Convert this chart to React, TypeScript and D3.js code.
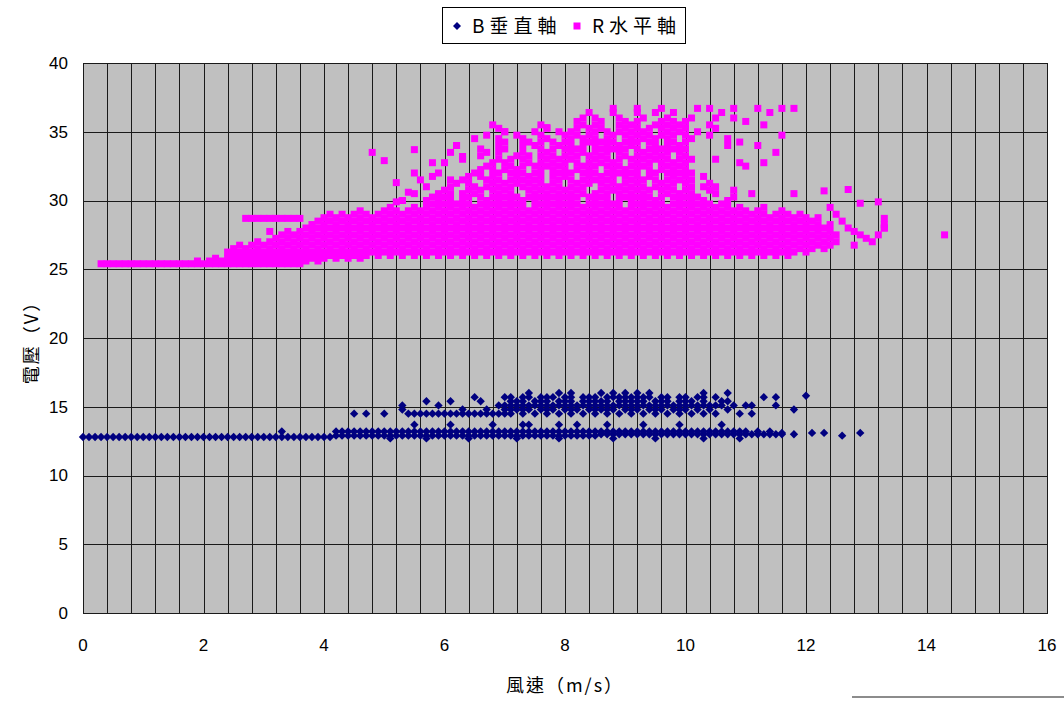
import React, { useEffect, useRef } from 'react';
import * as d3 from 'd3';

type Row = [number, number[]];

// B垂直軸 — rows of [voltage, wind speeds]
const bBaseRows: Row[] = [
  [12.8, [0, 0.1, 0.2, 0.3, 0.4, 0.5, 0.6, 0.7, 0.8, 0.9, 1, 1.1, 1.2, 1.3, 1.4, 1.5, 1.6, 1.7, 1.8, 1.9, 2, 2.1, 2.2, 2.3, 2.4, 2.5, 2.6, 2.7, 2.8, 2.9, 3, 3.1, 3.2, 3.3, 3.4, 3.5, 3.6, 3.7, 3.8, 3.9, 4, 4.1]],
  [12.9, [4.2, 4.3, 4.4, 4.5, 4.6, 4.7, 4.8, 4.9, 5, 5.1, 5.2, 5.3, 5.4, 5.5, 5.6, 5.7, 5.8, 5.9, 6, 6.1, 6.2, 6.3, 6.4, 6.5, 6.6, 6.7, 6.8, 6.9, 7, 7.1, 7.2, 7.3, 7.4, 7.5, 7.6, 7.7, 7.8, 7.9, 8, 8.1, 8.2, 8.3, 8.4, 8.5]],
  [13.0, [8.6, 8.7, 8.8, 8.9, 9, 9.1, 9.2, 9.3, 9.4, 9.5, 9.6, 9.7, 9.8, 9.9, 10, 10.1, 10.2, 10.3, 10.4, 10.5, 10.6, 10.7, 10.8, 10.9, 11, 11.1, 11.2, 11.3, 11.4, 11.5, 11.6, 11.8]],
  [13.2, [3.3, 4.2, 4.3, 4.4, 4.5, 4.6, 4.7, 4.8, 4.9, 5, 5.1, 5.2, 5.3, 5.4, 5.5, 5.6, 5.7, 5.8, 5.9, 6, 6.1, 6.2, 6.3, 6.4, 6.5, 6.6, 6.7, 6.8, 6.9, 7, 7.1, 7.2, 7.3, 7.4, 7.5, 7.6, 7.7, 7.8, 7.9, 8, 8.1, 8.2, 8.3, 8.4, 8.5, 8.6, 8.7, 8.8, 8.9, 9, 9.1, 9.2, 9.3, 9.4, 9.5, 9.6, 9.7, 9.8, 9.9, 10, 10.1, 10.2, 10.3, 10.4, 10.5, 10.6, 10.7, 10.8, 10.9, 11, 11.2, 11.4]],
  [12.7, [5.1, 5.7, 6.4, 7.2, 7.9, 8.8, 9.5, 10.3, 10.9]],
  [13.7, [5.5, 6.1, 6.8, 7.3, 7.4, 7.9, 8.2, 8.7, 9.3, 9.9, 10.6]],
];

const bUpperRows: Row[] = [
  [14.5, [4.5, 4.7, 5, 5.4, 5.5, 5.6, 5.7, 5.8, 5.9, 6, 6.1, 6.2, 6.3, 6.4, 6.5, 6.6, 6.7, 6.8, 6.9, 7, 7.1, 7.3, 7.5, 7.7, 7.9, 8.1, 8.3, 8.5, 8.7, 8.9, 9.1, 9.3, 9.5, 9.7, 9.9, 10.1, 10.3, 10.5, 10.9, 11.1]],
  [14.8, [5.3, 6.3, 6.7, 7, 7.1, 7.2, 7.3, 7.4, 7.6, 7.7, 7.8, 8, 8.1, 8.2, 8.4, 8.5, 8.6, 8.7, 8.8, 9, 9.1, 9.2, 9.4, 9.5, 9.6, 9.8, 9.9, 10, 10.2, 10.4, 10.7, 11.8]],
  [15.1, [5.3, 5.9, 6.9, 7, 7.1, 7.2, 7.3, 7.4, 7.5, 7.6, 7.7, 7.8, 7.9, 8, 8.1, 8.2, 8.3, 8.4, 8.5, 8.6, 8.7, 8.8, 8.9, 9, 9.1, 9.2, 9.3, 9.4, 9.5, 9.6, 9.7, 9.8, 9.9, 10, 10.1, 10.2, 10.3, 10.4, 10.5, 10.6, 10.8, 11, 11.1, 11.5]],
  [15.4, [5.7, 6.1, 6.6, 7.1, 7.2, 7.3, 7.5, 7.6, 7.7, 7.9, 8, 8.1, 8.3, 8.4, 8.5, 8.6, 8.7, 8.9, 9, 9.1, 9.2, 9.3, 9.5, 9.6, 9.7, 9.9, 10, 10.1, 10.3, 10.6, 10.7]],
  [15.7, [6.5, 7, 7.1, 7.3, 7.4, 7.6, 7.7, 7.8, 8, 8.1, 8.3, 8.4, 8.5, 8.7, 8.8, 8.9, 9, 9.1, 9.2, 9.3, 9.4, 9.6, 9.7, 9.9, 10, 10.2, 10.3, 10.5, 11.3, 11.5]],
  [16.0, [7.4, 7.9, 8.1, 8.6, 8.8, 9, 9.2, 9.4, 10.3, 10.7]],
];

const bLoose: [number, number][] = [
  [12.1, 13.1], [12.3, 13.1], [12.6, 12.9], [12.9, 13.1], [11.6, 13.1], [12.0, 15.8],
];

// R水平軸
const rBandRows: Row[] = [
  [25.4, [0.3, 0.4, 0.5, 0.6, 0.7, 0.8, 0.9, 1, 1.1, 1.2, 1.3, 1.4, 1.5, 1.6, 1.7, 1.8, 1.9, 2, 2.1, 2.2, 2.3, 2.4, 2.5, 2.6, 2.7, 2.8, 2.9, 3, 3.1, 3.2, 3.3, 3.4, 3.5, 3.6]],
  [25.6, [1.9, 2.1, 2.3, 2.5, 2.7, 2.9, 3.1, 3.3, 3.5, 3.7, 3.9]],
  [25.8, [2.2, 2.4, 2.6, 2.8, 3, 3.2, 3.4, 3.6, 3.8, 4, 4.2, 4.4, 4.6]],
  [26.0, [2.5, 2.7, 2.9, 3.1, 3.3, 3.5, 3.7, 3.9, 4.1, 4.3, 4.5, 4.7, 4.9, 5.1, 5.3, 5.5, 5.7, 5.9, 6.1, 6.3, 6.5, 6.7, 6.9, 7.1, 7.3, 7.5, 7.7, 7.9, 8.1, 8.3, 8.5, 8.7, 8.9, 9.1, 9.3, 9.5, 9.7, 9.9, 10.1, 10.3, 10.5, 10.7, 10.9, 11.1, 11.3, 11.5, 11.7]],
  [26.25, [2.4, 2.6, 2.8, 3, 3.2, 3.4, 3.6, 3.8, 4, 4.2, 4.4, 4.6, 4.8, 5, 5.2, 5.4, 5.6, 5.8, 6, 6.2, 6.4, 6.6, 6.8, 7, 7.2, 7.4, 7.6, 7.8, 8, 8.2, 8.4, 8.6, 8.8, 9, 9.2, 9.4, 9.6, 9.8, 10, 10.2, 10.4, 10.6, 10.8, 11, 11.2, 11.4, 11.6, 11.8, 12]],
  [26.5, [2.5, 2.7, 2.9, 3.1, 3.3, 3.5, 3.7, 3.9, 4.1, 4.3, 4.5, 4.7, 4.9, 5.1, 5.3, 5.5, 5.7, 5.9, 6.1, 6.3, 6.5, 6.7, 6.9, 7.1, 7.3, 7.5, 7.7, 7.9, 8.1, 8.3, 8.5, 8.7, 8.9, 9.1, 9.3, 9.5, 9.7, 9.9, 10.1, 10.3, 10.5, 10.7, 10.9, 11.1, 11.3, 11.5, 11.7, 11.9, 12.1, 12.3]],
  [26.75, [2.6, 2.8, 3, 3.2, 3.4, 3.6, 3.8, 4, 4.2, 4.4, 4.6, 4.8, 5, 5.2, 5.4, 5.6, 5.8, 6, 6.2, 6.4, 6.6, 6.8, 7, 7.2, 7.4, 7.6, 7.8, 8, 8.2, 8.4, 8.6, 8.8, 9, 9.2, 9.4, 9.6, 9.8, 10, 10.2, 10.4, 10.6, 10.8, 11, 11.2, 11.4, 11.6, 11.8, 12, 12.2, 12.4, 12.8]],
  [27.0, [2.9, 3.1, 3.3, 3.5, 3.7, 3.9, 4.1, 4.3, 4.5, 4.7, 4.9, 5.1, 5.3, 5.5, 5.7, 5.9, 6.1, 6.3, 6.5, 6.7, 6.9, 7.1, 7.3, 7.5, 7.7, 7.9, 8.1, 8.3, 8.5, 8.7, 8.9, 9.1, 9.3, 9.5, 9.7, 9.9, 10.1, 10.3, 10.5, 10.7, 10.9, 11.1, 11.3, 11.5, 11.7, 11.9, 12.1, 12.3, 12.5, 13.1]],
  [27.25, [3.2, 3.4, 3.6, 3.8, 4, 4.2, 4.4, 4.6, 4.8, 5, 5.2, 5.4, 5.6, 5.8, 6, 6.2, 6.4, 6.6, 6.8, 7, 7.2, 7.4, 7.6, 7.8, 8, 8.2, 8.4, 8.6, 8.8, 9, 9.2, 9.4, 9.6, 9.8, 10, 10.2, 10.4, 10.6, 10.8, 11, 11.2, 11.4, 11.6, 11.8, 12, 12.2, 12.4, 13]],
  [27.5, [3.3, 3.5, 3.7, 3.9, 4.1, 4.3, 4.5, 4.7, 4.9, 5.1, 5.3, 5.5, 5.7, 5.9, 6.1, 6.3, 6.5, 6.7, 6.9, 7.1, 7.3, 7.5, 7.7, 7.9, 8.1, 8.3, 8.5, 8.7, 8.9, 9.1, 9.3, 9.5, 9.7, 9.9, 10.1, 10.3, 10.5, 10.7, 10.9, 11.1, 11.3, 11.5, 11.7, 11.9, 12.1, 12.3, 12.5, 12.9, 13.2]],
  [27.75, [3.1, 3.4, 3.6, 3.8, 4, 4.2, 4.4, 4.6, 4.8, 5, 5.2, 5.4, 5.6, 5.8, 6, 6.2, 6.4, 6.6, 6.8, 7, 7.2, 7.4, 7.6, 7.8, 8, 8.2, 8.4, 8.6, 8.8, 9, 9.2, 9.4, 9.6, 9.8, 10, 10.2, 10.4, 10.6, 10.8, 11, 11.2, 11.4, 11.6, 11.8, 12, 12.2, 12.4, 12.8]],
  [28.0, [3.7, 3.9, 4.1, 4.3, 4.5, 4.7, 4.9, 5.1, 5.3, 5.5, 5.7, 5.9, 6.1, 6.3, 6.5, 6.7, 6.9, 7.1, 7.3, 7.5, 7.7, 7.9, 8.1, 8.3, 8.5, 8.7, 8.9, 9.1, 9.3, 9.5, 9.7, 9.9, 10.1, 10.3, 10.5, 10.7, 10.9, 11.1, 11.3, 11.5, 11.7, 11.9, 12.1, 12.3, 12.7, 13.3]],
  [28.25, [3.8, 4, 4.2, 4.4, 4.6, 4.8, 5, 5.2, 5.4, 5.6, 5.8, 6, 6.2, 6.4, 6.6, 6.8, 7, 7.2, 7.4, 7.6, 7.8, 8, 8.2, 8.4, 8.6, 8.8, 9, 9.2, 9.4, 9.6, 9.8, 10, 10.2, 10.4, 10.6, 10.8, 11, 11.2, 11.4, 11.6, 11.8, 12, 12.2, 12.4, 13.3]],
  [28.5, [3.9, 4.1, 4.3, 4.5, 4.7, 4.9, 5.1, 5.3, 5.5, 5.7, 5.9, 6.1, 6.3, 6.5, 6.7, 6.9, 7.1, 7.3, 7.5, 7.7, 7.9, 8.1, 8.3, 8.5, 8.7, 8.9, 9.1, 9.3, 9.5, 9.7, 9.9, 10.1, 10.3, 10.5, 10.7, 10.9, 11.1, 11.3, 11.5, 11.7, 11.9, 12.1, 12.6]],
  [28.7, [2.7, 2.8, 2.9, 3, 3.1, 3.2, 3.3, 3.4, 3.5, 3.6, 13.3]],
  [28.75, [4, 4.2, 4.4, 4.6, 4.8, 5, 5.2, 5.4, 5.6, 5.8, 6, 6.2, 6.4, 6.6, 6.8, 7, 7.2, 7.4, 7.6, 7.8, 8, 8.2, 8.4, 8.6, 8.8, 9, 9.2, 9.4, 9.6, 9.8, 10, 10.2, 10.4, 10.6, 10.8, 11, 11.2, 11.4, 11.6, 11.8, 12, 12.2]],
  [29.0, [4.1, 4.3, 4.5, 4.7, 4.9, 5.1, 5.3, 5.5, 5.7, 5.9, 6.1, 6.3, 6.5, 6.7, 6.9, 7.1, 7.3, 7.5, 7.7, 7.9, 8.1, 8.3, 8.5, 8.7, 8.9, 9.1, 9.3, 9.5, 9.7, 9.9, 10.1, 10.3, 10.5, 10.7, 10.9, 11.1, 11.3, 11.5, 11.7, 11.9, 12.5]],
  [29.25, [4.6, 5, 5.2, 5.4, 5.6, 5.8, 6, 6.2, 6.4, 6.6, 6.8, 7, 7.2, 7.4, 7.6, 7.8, 8, 8.2, 8.4, 8.6, 8.8, 9, 9.2, 9.4, 9.6, 9.8, 10, 10.2, 10.4, 10.6, 10.8, 11, 11.2, 11.6]],
  [29.5, [5.1, 5.5, 5.7, 5.9, 6.1, 6.3, 6.5, 6.7, 6.9, 7.1, 7.3, 7.5, 7.7, 7.9, 8.1, 8.3, 8.5, 8.7, 8.9, 9.1, 9.3, 9.5, 9.7, 9.9, 10.1, 10.3, 10.5, 10.7, 10.9, 11.3]],
];

const rCloudRows: Row[] = [
  [29.75, [5.8, 6, 6.2, 6.4, 6.6, 6.8, 7, 7.2, 7.6, 7.8, 8, 8.2, 8.4, 8.6, 8.8, 9.2, 9.4, 9.6, 9.8, 10, 10.2, 10.4, 10.6]],
  [30.0, [5.3, 5.7, 5.9, 6.1, 6.3, 6.7, 6.9, 7.1, 7.3, 7.5, 7.7, 7.9, 8.1, 8.5, 8.7, 8.9, 9.1, 9.3, 9.5, 9.9, 10.1, 10.3, 10.7]],
  [30.25, [5.8, 6, 6.4, 6.6, 6.8, 7, 7.2, 7.4, 7.6, 7.8, 8, 8.2, 8.4, 8.6, 9, 9.2, 9.4, 9.6, 9.8, 10, 10.2, 10.8]],
  [30.5, [5.5, 5.9, 6.1, 6.3, 6.5, 6.9, 7.1, 7.5, 7.7, 7.9, 8.1, 8.3, 8.5, 8.7, 8.9, 9.1, 9.3, 9.7, 9.9, 10.1, 10.5, 11.1]],
  [30.75, [6, 6.4, 6.6, 6.8, 7, 7.4, 7.6, 7.8, 8, 8.2, 8.6, 8.8, 9, 9.2, 9.4, 9.6, 9.8, 10, 10.4, 10.8]],
  [31.0, [5.7, 6.1, 6.5, 6.7, 6.9, 7.1, 7.3, 7.5, 7.7, 7.9, 8.1, 8.3, 8.7, 8.9, 9.1, 9.3, 9.5, 9.7, 10.1, 10.3, 10.5]],
  [31.25, [6.2, 6.4, 6.8, 7, 7.2, 7.4, 7.6, 7.8, 8.2, 8.4, 8.6, 8.8, 9, 9.2, 9.6, 9.8, 10, 10.4]],
  [31.5, [5.6, 6.1, 6.3, 6.7, 6.9, 7.1, 7.3, 7.5, 7.9, 8.1, 8.3, 8.5, 8.7, 9.1, 9.3, 9.5, 9.7, 9.9, 10.1]],
  [31.75, [5.8, 6.4, 6.6, 6.8, 7.2, 7.4, 7.6, 7.8, 8, 8.4, 8.6, 8.8, 9, 9.2, 9.4, 9.8, 10, 10.3]],
  [32.0, [5.5, 5.9, 6.5, 6.9, 7.1, 7.3, 7.5, 7.9, 8.1, 8.3, 8.5, 8.7, 8.9, 9.1, 9.5, 9.7, 9.9, 10.1]],
  [32.25, [6.6, 6.8, 7, 7.2, 7.6, 7.8, 8, 8.2, 8.4, 8.8, 9, 9.2, 9.4, 9.6, 9.8, 10]],
  [32.5, [6.7, 7.1, 7.3, 7.5, 7.7, 7.9, 8.3, 8.5, 8.7, 8.9, 9.1, 9.3, 9.7, 9.9, 11]],
  [32.75, [5.8, 6, 6.8, 7, 7.4, 7.6, 7.8, 8, 8.2, 8.4, 8.6, 8.8, 9.2, 9.4, 9.6, 9.8, 10, 10.9, 11.3]],
  [33.0, [6.3, 6.9, 7.1, 7.3, 7.7, 7.9, 8.1, 8.5, 8.7, 8.9, 9.1, 9.3, 9.5, 9.7, 9.9, 10.1, 10.5]],
  [33.25, [6.6, 7.2, 7.4, 7.6, 7.8, 8, 8.2, 8.4, 8.6, 9, 9.2, 9.4, 9.6, 10]],
  [33.5, [6.1, 6.7, 6.9, 7.3, 7.7, 8.1, 8.3, 8.5, 8.7, 8.9, 9.3, 9.5, 9.7, 9.9, 11.5]],
  [33.75, [6.6, 7, 7.6, 7.8, 8, 8.2, 8.6, 8.8, 9, 9.2, 9.4, 9.6, 9.8, 10]],
  [34.0, [6.2, 6.9, 7.3, 7.5, 7.9, 8.1, 8.3, 8.5, 8.7, 8.9, 9.1, 9.5, 9.7, 9.9, 10.7, 11.2]],
  [34.25, [7, 7.4, 7.6, 7.8, 8, 8.4, 8.6, 8.8, 9, 9.2, 9.4, 9.8, 10, 10.9]],
  [34.5, [6.5, 6.9, 7.3, 7.7, 8.1, 8.3, 8.5, 8.7, 9.1, 9.3, 9.5, 9.7, 10.1, 10.7]],
  [34.75, [6.7, 7.2, 7.6, 8, 8.2, 8.4, 8.8, 9, 9.2, 9.4, 9.6, 9.8, 10, 10.4, 11.6]],
  [35.0, [7, 7.5, 7.9, 8.1, 8.5, 8.7, 8.9, 9.1, 9.3, 9.7, 9.9, 10.2]],
  [35.25, [6.9, 7.7, 8.2, 8.4, 8.6, 9, 9.2, 9.4, 9.6, 9.8, 10, 10.5]],
  [35.5, [6.8, 7.6, 8.3, 8.5, 8.9, 9.1, 9.5, 9.7, 9.9, 10.4, 11.3]],
  [35.75, [8.2, 8.6, 9, 9.2, 9.6, 9.8, 10, 11]],
  [36.0, [8.3, 8.5, 8.9, 9.3, 9.7, 10.1, 10.5, 10.8]],
  [36.4, [8.4, 8.8, 9.2, 9.5, 9.8, 10.6, 11.4]],
  [36.7, [8.8, 9.2, 9.6, 10.2, 10.4, 10.8, 11.2, 11.6, 11.8]],
];

const rLoose: [number, number][] = [
  [4.8, 33.5], [5.0, 32.9], [5.5, 33.7], [5.2, 31.3], [5.4, 30.6], [5.2, 29.9], [5.3, 30.0],
  [12.9, 29.8], [13.2, 29.9], [12.4, 29.5], [13.3, 28.0], [14.3, 27.5], [12.3, 30.7],
  [12.7, 30.8], [11.8, 30.5], [6.2, 34.0], [6.3, 33.2], [7.0, 35.0], [7.7, 35.3],
];

const xTicks = [0, 2, 4, 6, 8, 10, 12, 14, 16];
const yTicks = [0, 5, 10, 15, 20, 25, 30, 35, 40];
const seriesNames = ['B垂直軸', 'R水平軸'];
const xTitle = '風速（m/s）';
const yTitle = '電壓（V）';

const flatten = (rows: Row[]) => rows.flatMap(([v, xs]) => xs.map((s) => [s, v] as [number, number]));

const App = () => {
  const svgRef = useRef<SVGSVGElement>(null);

  useEffect(() => {
    const svg = d3.select(svgRef.current);
    svg.selectAll('*').remove();

    const x = d3.scaleLinear().domain([0, 16]).range([83, 1047]);
    const y = d3.scaleLinear().domain([0, 40]).range([613, 63]);
    const numFont = '"Liberation Sans", Arial, sans-serif';
    const cjkFont = '"Noto Sans CJK TC", "Noto Sans", sans-serif';

    // plot area
    svg.append('rect')
      .attr('x', x(0)).attr('y', y(40))
      .attr('width', x(16) - x(0)).attr('height', y(0) - y(40))
      .attr('fill', '#c0c0c0');

    // grid: verticals every 0.4, horizontals every 5
    const vLines = d3.range(1, 40).map((i) => i * 0.4);
    svg.append('g').attr('shape-rendering', 'crispEdges')
      .selectAll('line').data(vLines).enter().append('line')
      .attr('x1', (d) => Math.round(x(d)) + 0.5).attr('x2', (d) => Math.round(x(d)) + 0.5)
      .attr('y1', y(40)).attr('y2', y(0))
      .attr('stroke', '#1a1a1a').attr('stroke-width', 1);
    svg.append('g').attr('shape-rendering', 'crispEdges')
      .selectAll('line').data(yTicks.slice(1, -1)).enter().append('line')
      .attr('x1', x(0)).attr('x2', x(16))
      .attr('y1', (d) => Math.round(y(d)) + 0.5).attr('y2', (d) => Math.round(y(d)) + 0.5)
      .attr('stroke', '#1a1a1a').attr('stroke-width', 1);

    svg.append('rect')
      .attr('x', x(0) + 0.5).attr('y', y(40) + 0.5)
      .attr('width', x(16) - x(0)).attr('height', y(0) - y(40))
      .attr('fill', 'none').attr('stroke', '#1a1a1a').attr('shape-rendering', 'crispEdges');

    // B series (navy diamonds)
    const bPts = [...flatten(bBaseRows), ...flatten(bUpperRows), ...bLoose];
    svg.append('g').selectAll('path').data(bPts).enter().append('path')
      .attr('d', 'M0,-4.2L4.2,0L0,4.2L-4.2,0Z')
      .attr('transform', (d) => `translate(${x(d[0])},${y(d[1])})`)
      .attr('fill', '#000080');

    // R series (magenta squares)
    const rPts = [...flatten(rBandRows), ...flatten(rCloudRows), ...rLoose];
    svg.append('g').selectAll('rect').data(rPts).enter().append('rect')
      .attr('x', (d) => x(d[0]) - 3.5).attr('y', (d) => y(d[1]) - 3.5)
      .attr('width', 7).attr('height', 7)
      .attr('fill', '#ff00ff');

    // tick labels
    svg.append('g').selectAll('text').data(yTicks).enter().append('text')
      .attr('x', 68).attr('y', (d) => y(d)).attr('dy', '0.35em')
      .attr('text-anchor', 'end').attr('font-family', numFont).attr('font-size', 17)
      .text((d) => d);
    svg.append('g').selectAll('text').data(xTicks).enter().append('text')
      .attr('x', (d) => x(d)).attr('y', 645).attr('dy', '0.35em')
      .attr('text-anchor', 'middle').attr('font-family', numFont).attr('font-size', 17)
      .text((d) => d);

    // axis titles
    svg.append('text')
      .attr('transform', 'translate(32,338) rotate(-90)')
      .attr('text-anchor', 'middle').attr('dy', '0.35em')
      .attr('font-family', cjkFont).attr('font-size', 18).attr('letter-spacing', 2)
      .text(yTitle);
    svg.append('text')
      .attr('x', 565).attr('y', 686).attr('dy', '0.35em')
      .attr('text-anchor', 'middle')
      .attr('font-family', cjkFont).attr('font-size', 18).attr('letter-spacing', 2)
      .text(xTitle);

    // legend
    const lg = svg.append('g');
    lg.append('rect')
      .attr('x', 442.5).attr('y', 7.5).attr('width', 243).attr('height', 36)
      .attr('fill', '#fff').attr('stroke', '#000').attr('shape-rendering', 'crispEdges');
    lg.append('path').attr('d', 'M0,-4L4,0L0,4L-4,0Z')
      .attr('transform', 'translate(457,26)').attr('fill', '#000080');
    lg.append('rect').attr('x', 573.5).attr('y', 22.5).attr('width', 7).attr('height', 7).attr('fill', '#ff00ff');
    lg.selectAll('text.lab').data(seriesNames).enter().append('text')
      .attr('x', (_, i) => (i === 0 ? 472 : 592)).attr('y', 26).attr('dy', '0.35em')
      .attr('font-family', cjkFont).attr('font-size', 19).attr('letter-spacing', 5)
      .text((d) => d);

    // stray line at bottom right
    svg.append('line')
      .attr('x1', 852).attr('x2', 1064).attr('y1', 697).attr('y2', 697)
      .attr('stroke', '#8c8c8c').attr('stroke-width', 2);
  }, []);

  return (
    <svg ref={svgRef} width={1064} height={702}
      style={{ position: 'absolute', left: 0, top: 0, background: '#fff' }} />
  );
};

export default App;
